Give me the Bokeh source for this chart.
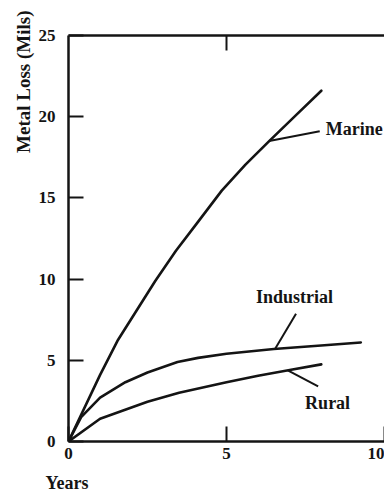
from bokeh.plotting import figure
from bokeh.models import Range1d, LinearAxis, FixedTicker, Label, Title, CustomJSTickFormatter
from bokeh.embed import file_html
from bokeh.resources import INLINE
import numpy as np

# Atmospheric corrosion of steel: metal loss (mils) against exposure time (years)
marine_years = [0, 1.0, 1.55, 2.75, 3.4, 4.05, 4.85, 5.6, 6.35, 7.2, 8.0]
marine_loss = [0, 4.1, 6.2, 9.9, 11.75, 13.4, 15.45, 17.05, 18.5, 20.1, 21.6]

industrial_years = [0, 0.4, 1.0, 1.8, 2.5, 3.45, 4.1, 5.0, 6.5, 8.1, 9.25]
industrial_loss = [0, 1.5, 2.7, 3.65, 4.25, 4.9, 5.15, 5.4, 5.7, 5.93, 6.1]

rural_years = [0, 1.0, 2.5, 3.5, 5.0, 6.0, 7.0, 8.0]
rural_loss = [0, 1.4, 2.45, 3.0, 3.65, 4.05, 4.4, 4.75]

series_names = ["Marine", "Industrial", "Rural"]
y_ticks = [0, 5, 10, 15, 20, 25]
x_ticks = [0, 5, 10]

# callout leaders: where each touches its curve and where it ends near the name
leader_touch_x = [6.35, 6.54, 6.94]
leader_end_x = [7.95, 7.2, 7.9]
leader_end_y = [19.1, 7.86, 3.39]
name_x = [8.14, 7.15, 8.2]
name_y = [19.27, 8.87, 2.34]
name_align = ["left", "center", "center"]

FONT = "Liberation Serif"
INK = "#141414"

p = figure(width=384, height=502, output_backend="svg", toolbar_location=None,
           x_range=Range1d(0, 10), y_range=Range1d(0, 25),
           min_border_left=68, min_border_right=0, min_border_top=35, min_border_bottom=61,
           x_axis_location=None, y_axis_location=None)
p.outline_line_color = None
p.grid.visible = False
p.background_fill_color = "white"
p.border_fill_color = "white"


def style_axis(ax, ticks):
    ax.ticker = FixedTicker(ticks=ticks)
    ax.axis_line_color = INK
    ax.axis_line_width = 2.5
    ax.major_tick_line_color = INK
    ax.major_tick_line_width = 2
    ax.major_tick_in = 15
    ax.major_tick_out = 0
    ax.minor_tick_line_color = None
    ax.major_label_text_font = FONT
    ax.major_label_text_font_style = "bold"
    ax.major_label_text_font_size = "17px"
    ax.major_label_text_color = INK


left = LinearAxis()
style_axis(left, y_ticks)
left.major_label_standoff = 13
p.add_layout(left, "left")

bottom = LinearAxis()
style_axis(bottom, x_ticks)
bottom.major_label_standoff = 6
p.add_layout(bottom, "below")

top = LinearAxis()
style_axis(top, [5])
top.formatter = CustomJSTickFormatter(code="return ''")
top.major_label_standoff = 0
p.add_layout(top, "above")

years = [marine_years, industrial_years, rural_years]
losses = [marine_loss, industrial_loss, rural_loss]
for xs, ys in zip(years, losses):
    p.line(xs, ys, line_color=INK, line_width=2.6, line_join="round", line_cap="round")

touch_y = [float(np.interp(tx, xs, ys)) for tx, xs, ys in zip(leader_touch_x, years, losses)]
p.segment(x0=leader_touch_x, y0=touch_y, x1=leader_end_x, y1=leader_end_y,
          line_color=INK, line_width=2)

for nm, nx, ny, al in zip(series_names, name_x, name_y, name_align):
    p.add_layout(Label(x=nx, y=ny, text=nm, text_align=al, text_baseline="middle",
                       text_font=FONT, text_font_style="bold", text_font_size="18px",
                       text_color=INK))

# axis titles: the y title sits toward the top, "Years" toward the left
p.add_layout(Title(text="Metal Loss (Mils)", align="right", offset=-25, standoff=4,
                   text_font=FONT, text_font_style="bold", text_font_size="19px",
                   text_color=INK), "left")
p.add_layout(Title(text="Years", align="left", offset=-23, standoff=18,
                   text_font=FONT, text_font_style="bold", text_font_size="18px",
                   text_color=INK), "below")

open("out.html", "w").write(file_html(p, INLINE))
